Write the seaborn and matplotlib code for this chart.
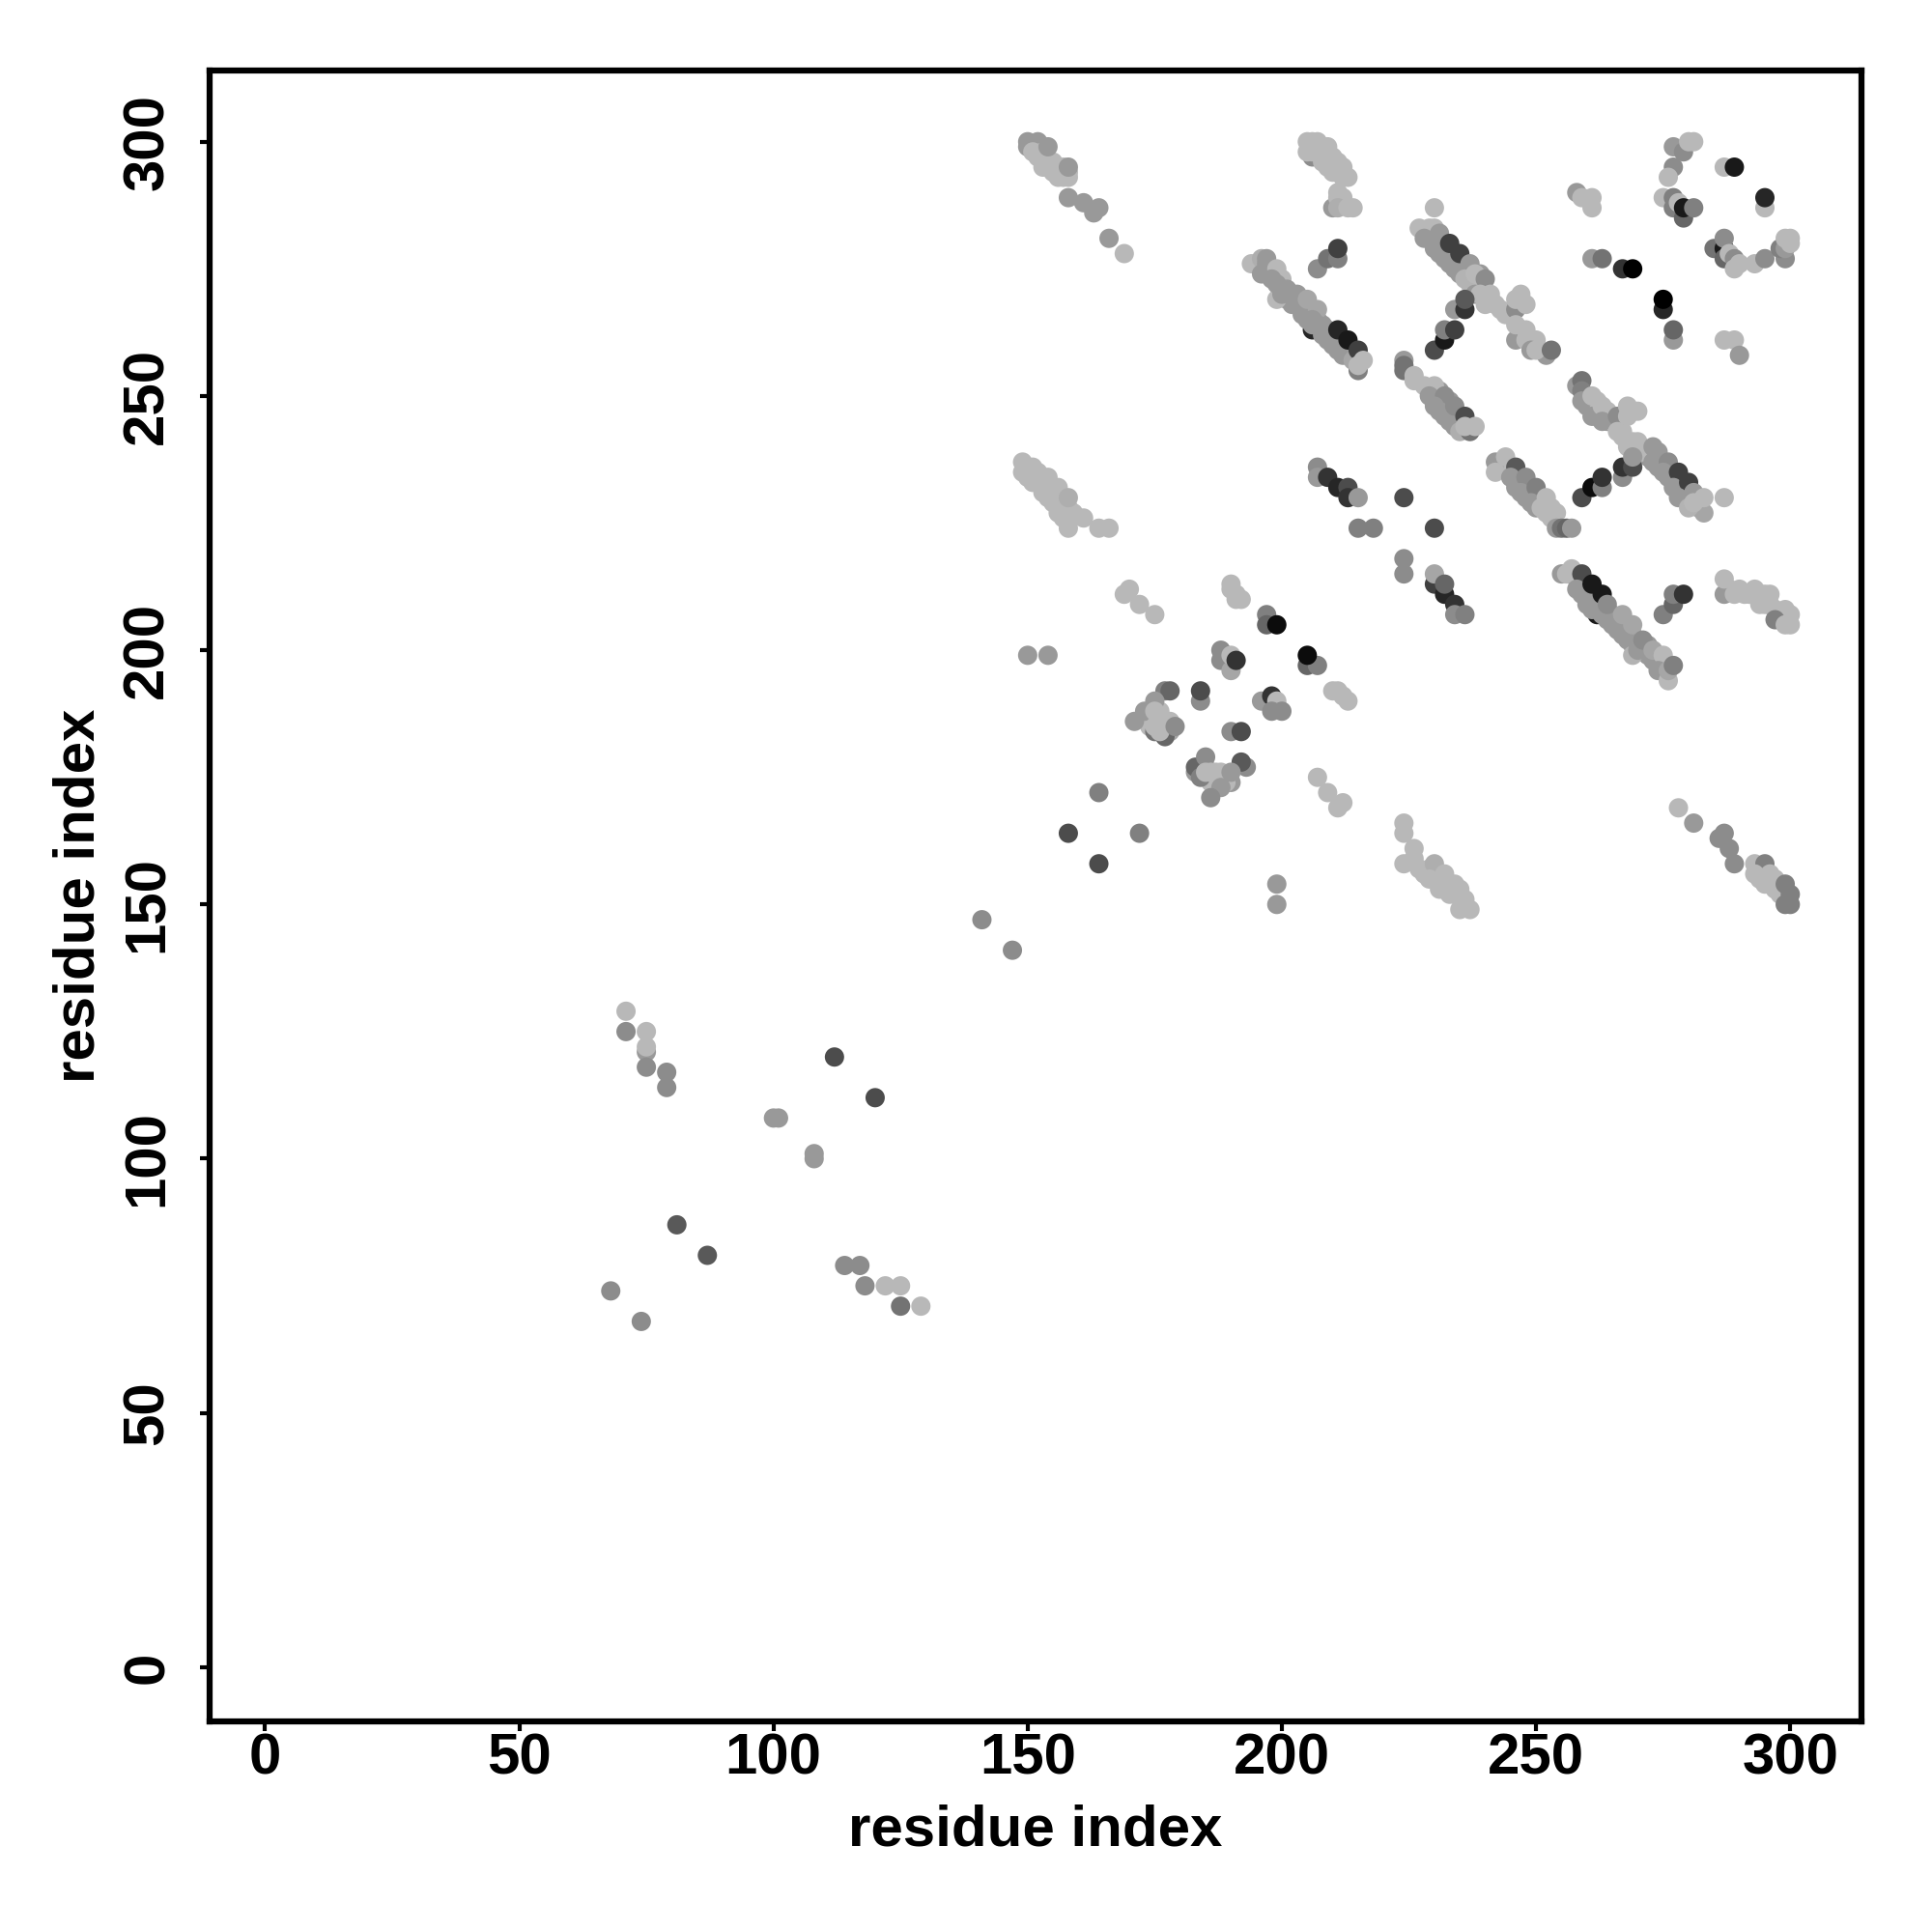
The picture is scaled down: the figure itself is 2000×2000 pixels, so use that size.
import matplotlib
matplotlib.use("Agg")
import matplotlib.pyplot as plt
import pandas as pd
import seaborn as sns

L = .72  # light shade
M = .6   # medium shade
band_a = [(150,300,.6),(150,299,.6),(152,300,.6),(151,298,L),(152,297,L),(153,298,L),(153,295,L),(154,296,L),(154,299,.6),
          (155,294,L),(156,295,L),(157,293,L),(158,293,L),(158,294,L),(158,295,.6),(158,289,.6),(161,288,.6),(163,286,.6),(164,287,.6),(166,281,.6),(169,278,L)]
band_b = [(206,297,.55),(205,300,L),(206,300,L),(207,300,L),(205,298,L),(206,298,L),(209,299,L),(208,296,L),(210,297,L),(209,295,L),(211,296,L),
          (212,295,L),(210,294,L),(212,293,L),(213,293,L),(211,290,L),(210,287,.6),(211,289,L),(212,289,L),(211,287,.68),(213,287,L),(214,287,L)]
band_c = [(194,276,L),(196,277,.68),(197,277,.6),(196,274,.6),(197,276,.6),(197,274,.6),(199,275,L),(200,273,L),(199,269,L),(198,273,.6),(199,272,.6),(200,271,.6),
          (200,270,.6),(201,271,.6),(202,270,.6),(203,269,.6),(203,268,.6),(204,267,.6),(205,266,.6),(205,269,.65),(207,267,.65),(206,265,.6),(207,264,.6),(208,263,.6),
          (209,262,.6),(210,261,.6),(211,260,.6),(215,255,.5),(211,263,.15),(212,259,.6),(213,258,.6),(213,261,.1),(214,257,.65),(215,259,.25),(215,256,L),(216,257,L)]
branch_c = [(207,275,.55),(209,277,.45),(211,277,.5),(211,279,.25)]
band_d = [(149,237,L),(149,235,L),(151,236,L),(152,235,L),(154,234,L),(151,233,L),(156,232,L),(153,231,L),(155,229,L),(157,228,L),(156,227,L),(158,230,.68),
          (158,226,L),(161,226,L),(158,224,L),(164,224,L),(166,224,L)]
branch_d = [(207,236,.55),(207,234,.6),(209,234,.2),(211,232,.15),(213,232,.3),(213,230,.2),(215,230,.6),(215,224,.5),(218,224,.5),(224,230,.3),(230,224,.3),
            (224,218,.55),(224,215,.55),(230,213,.25),(230,215,.65),(232,211,.15),(232,213,.4),(234,209,.2),(234,207,.55),(236,207,.5)]
band_e = [(230,287,L),(227,283,L),(229,283,L),(230,283,L),(228,281,.6),(231,282,.6),(230,279,.6),(232,277,.6),(233,280,.25),(234,275,.6),(235,278,.25),(235,274,.6),
          (237,276,.6),(239,274,.6),(236,273,.7),(238,274,L),(240,273,.55),(238,270,.6),(239,270,L),(241,270,L),(240,268,L),(242,268,L),(243,267,L),(244,266,L),
          (246,267,.55),(246,269,L),(247,270,L),(248,268,L),(246,261,.6),(246,264,L),(248,263,L),(248,261,L),(250,261,L),(249,259,.6),(252,258,.6),(250,259,L),(253,259,.45)]
branch_e = [(230,259,.3),(232,261,.1),(232,263,.5),(234,263,.25),(234,267,.6),(236,267,.2),(236,269,.35)]
band_f = [(224,257,.6),(224,256,.45),(224,255,.45),(226,254,L),(226,253,L),(228,252,L),(230,252,L),(229,250,.6),(232,250,.55),(230,248,.6),(231,247,.6),(232,246,.6),(233,245,.6),
          (234,248,.55),(235,243,.68),(236,246,.3),(237,243,.45),(238,244,L),(236,244,L)]
band_g = [(242,237,.6),(244,238,L),(242,235,L),(246,236,.35),(245,234,.6),(248,234,.55),(247,231,.6),(250,232,.5),(249,229,.6),(252,230,L),(251,228,L),(252,227,L),(254,227,L),(254,224,.6),(255,224,.45),(256,224,.4),(257,224,.6)]
branch_g = [(259,230,.3),(261,232,.05),(263,232,.5),(263,234,.2),(267,234,.55),(267,236,.2),(269,236,.3)]
band_h = [(258,252,.6),(259,253,.45),(259,251,.5),(259,249,.6),(261,250,L),(261,246,.6),(263,248,L),(263,245,.6),(266,246,.55),(268,248,L),(270,247,L),(268,246,L),
          (266,243,L),(268,241,L),(270,240,L),(268,240,L),(269,238,.6),(273,240,.6),(274,239,.6),(273,237,.6),(276,237,.55),(275,235,.6),(278,235,.25),(277,232,.6),(280,233,.25),(278,230,.6),(281,231,.6),
          (283,227,.65),(280,228,.7),(281,229,L),(283,230,L),(287,230,L)]
corner_top = [(258,290,.6),(259,289,L),(261,289,L),(261,287,L),(261,277,.6),(263,277,.45),(267,275,.2),(269,275,0),(275,267,.15),(275,269,0),(277,261,.6),(277,263,.4),
              (287,261,L),(289,261,L),(290,258,.6),(277,299,.6),(279,298,.55),(280,300,L),(281,300,L),(277,295,.55),(276,293,L),(275,289,L),(277,289,.5),(277,287,.5),(279,285,.4),(278,288,L),(279,287,.1),(281,287,.5),
              (287,295,L),(289,295,.1),(295,287,L),(295,289,.15),(285,279,.45),(287,279,.1),(287,277,.4),(287,281,.55),(288,278,L),(289,277,.55),(289,275,L),(290,276,L),(293,276,L),(295,277,.55),(299,277,.55),(298,279,.5),(299,279,.6),(299,281,L),(300,280,L),(300,281,L)]
band_i = [(255,215,.6),(256,215,L),(257,216,L),(259,215,.3),(258,212,.6),(261,213,.1),(260,209,.6),(263,211,.1),(263,207,.6),(264,209,.55),(266,204,.6),(267,207,.65),(268,202,.6),(269,205,.65),
          (269,199,.7),(270,200,.6),(271,202,.55),(273,200,.65),(275,199,L),(274,196,.6),(276,194,L),(276,196,.65),(277,197,.5)]
right_i = [(275,207,.5),(277,209,.4),(277,211,.5),(279,211,.2),(287,211,.6),(287,214,L),(289,211,L),(290,212,L),(293,212,L),(295,211,L),(294,209,L),(296,209,L),(299,208,L),(297,206,.5),(299,205,L),(300,205,L)]
band_j = [(224,166,L),(224,164,L),(226,161,L),(224,158,L),(226,159,L),(227,157,L),(230,158,.68),(232,156,L),(229,155,L),(234,154,L),(231,153,L),(233,152,L),(235,152,L),(235,149,L),(237,149,L)]
band_k = [(278,169,L),(281,166,.6),(287,164,.55),(286,163,.55),(288,161,.55),(289,158,.55),(293,158,L),(295,158,.5),(293,156,L),(296,156,L),(295,154,L),(298,152,L),(299,154,.5),(300,152,.5),(299,150,.5),(300,150,.5)]
middle = [(169,211,L),(170,212,L),(172,209,L),(175,207,L),(190,213,L),(190,212,L),(191,211,L),(192,210,L),(191,210,L),(197,207,.5),(197,205,.4),(199,205,.05),
          (150,199,.6),(154,199,.6),(188,200,.55),(188,198,.55),(190,196,.65),(190,199,L),(191,198,.2),(205,197,.4),(207,197,.5),(205,199,.05),(210,192,L),(211,192,L),(212,191,L),(213,190,L)]
cluster_a = [(177,192,.5),(178,192,.4),(175,190,.6),(173,188,.6),(171,186,.6),(175,184,.45),(177,183,.4),(175,188,L),(176,186,L),(175,185,L),(176,184,L),(179,185,.55),
             (184,190,.55),(184,192,.3),(196,190,.6),(198,191,.2),(199,190,L),(198,188,.55),(200,188,.55),(190,184,.55),(192,184,.3)]
cluster_b = [(193,177,.55),(192,178,.35),(183,177,.4),(184,175,.5),(185,179,.55),(185,176,L),(186,176,L),(188,175,L),(190,176,.6),(188,173,.6),(186,171,.55),
             (207,175,L),(209,172,L),(211,169,L),(212,170,L),(164,172,.5),(158,164,.3),(172,164,.5),(164,158,.3),(199,154,.6),(199,150,.6),(141,147,.55),(147,141,.55)]
low = [(71,129,L),(71,125,.55),(75,125,L),(75,121,.6),(75,122,L),(75,118,.55),(79,117,.55),(79,114,.55),(112,120,.3),(120,112,.3),(100,108,.6),(101,108,.6),(108,101,.6),(108,100,.6),
       (81,87,.35),(87,81,.35),(114,79,.55),(117,79,.55),(118,75,.55),(122,75,L),(125,75,L),(125,71,.45),(129,71,L),(68,74,.55),(74,68,.55)]

# Residue pairs that are mostly hidden inside the dense diagonal bands.
under_mid = [(206,263,.15),(262,207,.1),
             (198,275,M),(201,269,M),(202,268,M),(204,266,M),(205,265,M),(206,264,M),(208,262,M),(209,261,M),(210,260,M),(211,259,M),(212,258,M),
             (203,270,M),(204,268,M),(206,266,M),(207,265,M),(208,264,M),(209,263,M),(210,262,M),(211,261,M),(212,260,M),(213,259,M),
             (229,281,M),(231,280,M),(231,278,M),(232,279,M),(233,277,M),(233,276,M),(234,277,M),(235,276,M),(235,275,M),(236,275,M),(237,274,M),
             (231,251,M),(231,249,M),(233,249,M),(233,247,M),(234,246,M),(235,245,M),(234,244,M),(235,246,M),(236,245,M),
             (246,234,M),(247,233,M),(246,232,M),(248,232,M),(248,230,M),(249,231,M),(250,230,M),(250,228,M),(244,236,M),(251,229,.65),
             (262,247,M),(260,248,M),(262,246,M),(264,245,M),
             (272,238,M),(273,238,M),(274,236,M),(274,237,M),(275,236,M),(276,235,M),(276,234,M),(277,234,M),(278,233,M),(278,232,M),(279,232,M),(279,230,M),(280,231,M),(280,229,M),(282,230,M),(282,228,.65),
             (258,214,M),(259,213,M),(259,211,M),(260,211,M),(260,210,M),(261,210,M),(261,208,M),(262,209,M),(263,209,M),(264,207,M),(264,206,M),(265,207,M),(265,205,M),(266,206,M),(266,205,M),
             (267,204,M),(267,203,M),(268,204,M),(269,203,M),(269,201,M),(270,202,M),(270,201,M),(271,200,M),(272,199,M),(272,201,M),(273,198,M),(273,199,M),(274,198,M),(275,197,M),(275,196,M),
             (189,175,M),(183,176,M),(190,174,M),(178,184,.65)]
under_light = [(155,296,L),(156,293,L),(157,295,L),(150,234,L),(153,233,L),(155,232,L),(155,231,L),(154,230,L),(156,230,L),(157,229,L),(157,226,L),(158,228,L),(159,227,L),
               (237,272,L),(238,272,L),(243,236,L),(253,226,L),(253,228,L),
               (262,249,L),(263,247,L),(264,246,L),(265,245,L),(266,244,L),(267,243,L),(267,242,L),(269,241,L),(269,240,L),(270,241,L),(271,239,L),(264,247,L),
               (288,212,L),(291,211,L),(292,211,L),(295,209,L),(297,208,L),(298,207,L),(296,211,L),(294,211,L),(298,206,L),(300,207,L),
               (294,157,L),(294,155,L),(295,155,L),(296,154,L),(297,153,L),(297,155,L),(298,153,L),
               (174,187,L),(174,185,L),(175,186,L),(176,188,L),(177,186,L),(177,185,L),(176,187,L),(178,186,L),(175,187,L),
               (184,177,L),(185,177,L),(186,175,L),(186,174,L),(187,174,L),(187,176,L),(188,176,L),(189,174,L),(185,175,L),
               (228,156,L),(229,157,L),(230,156,L),(231,155,L),(233,154,L),(232,154,L),(234,152,L),(233,153,L),(235,153,L),(236,151,L),(236,150,L)]

tick_values = [0, 50, 100, 150, 200, 250, 300]
axis_label = "residue index"

rows = (under_mid + under_light + band_a + band_b + band_c + branch_c + band_d + branch_d + band_e + branch_e + band_f + band_g + branch_g + band_h
        + corner_top + band_i + right_i + band_j + band_k + middle + cluster_a + cluster_b + low)
df = pd.DataFrame(rows, columns=["i", "j", "shade"])

sns.set_theme(style="white")
plt.rcParams["font.family"] = ["Liberation Sans", "DejaVu Sans"]
fig = plt.figure(figsize=(2000/300, 2000/300), dpi=300, facecolor="white")
ax = fig.add_axes([217/2000, 1 - 1782/2000, (1927-217)/2000, (1782-73)/2000])
sns.scatterplot(data=df, x="i", y="j", hue="shade", palette="gray", hue_norm=(0, 1),
                s=23, linewidth=0, alpha=1, legend=False, ax=ax, clip_on=True)
ax.set_xlim(-10.9, 314)
ax.set_ylim(-10.66, 314)
ax.set_xticks(tick_values)
ax.set_yticks(tick_values)
ax.set_xticklabels([str(v) for v in tick_values], fontsize=14.4, fontweight="bold", color="black")
ax.set_yticklabels([str(v) for v in tick_values], fontsize=14.4, fontweight="bold", color="black", rotation=90, va="center")
ax.tick_params(axis="x", direction="out", length=2.5, width=1, color="black", bottom=True, pad=0.3)
ax.tick_params(axis="y", direction="out", length=2.5, width=1, color="black", left=True, pad=6.2)
ax.set_xlabel(axis_label, fontsize=14.4, fontweight="bold", color="black", labelpad=4.5)
ax.set_ylabel(axis_label, fontsize=14.4, fontweight="bold", color="black", labelpad=3.8)
for s in ax.spines.values():
    s.set_visible(True)
    s.set_color("black")
    s.set_linewidth(1.5)
fig.savefig("out.png", dpi=300, facecolor="white")
